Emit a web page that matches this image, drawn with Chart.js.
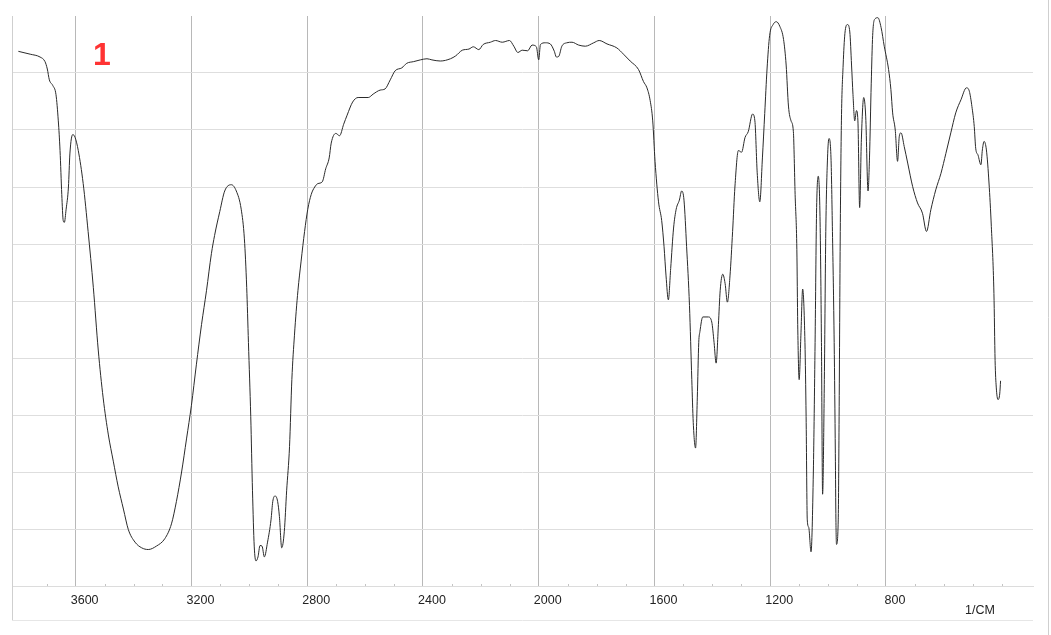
<!DOCTYPE html>
<html lang="en">
<head>
  <meta charset="UTF-8">
  <title>IR spectrum 1</title>
  <style>
    body {
      margin: 0;
      background: #fff;
    }
    canvas {
      display: block;
    }
  </style>
  <script src="https://cdn.jsdelivr.net/npm/chart.js@4"></script>
</head>
<body>
  <canvas id="chart" width="1051" height="635"></canvas>

  <script>
    // wavenumber (1/cm) from left to right
    const wavenumbers = [
      3798, 3757, 3723, 3706, 3698, 3691, 3679, 3668, 3660, 3654, 3648, 3643, 3639, 3633, 3625, 3620,
      3610, 3602, 3591, 3574, 3557, 3539, 3522, 3505, 3487, 3470, 3453, 3435, 3418, 3395, 3372, 3349,
      3321, 3292, 3269, 3252, 3234, 3217, 3200, 3183, 3165, 3148, 3131, 3120, 3102, 3085, 3062, 3045,
      3028, 3017, 3009, 3003, 2995, 2989, 2983, 2977, 2970, 2963, 2956, 2948, 2937, 2925, 2919, 2911,
      2902, 2896, 2888, 2879, 2871, 2861, 2853, 2844, 2832, 2821, 2809, 2798, 2786, 2774, 2763, 2748,
      2736, 2724, 2717, 2701, 2688, 2674, 2662, 2643, 2624, 2589, 2572, 2548, 2531, 2513, 2496, 2473,
      2456, 2432, 2409, 2386, 2369, 2340, 2305, 2287, 2264, 2241, 2226, 2207, 2192, 2167, 2149, 2126,
      2101, 2086, 2072, 2057, 2038, 2023, 2008, 2000, 1994, 1977, 1960, 1946, 1939, 1931, 1920, 1903,
      1885, 1862, 1839, 1810, 1791, 1764, 1730, 1707, 1684, 1655, 1638, 1626, 1615, 1606, 1598, 1586,
      1575, 1567, 1560, 1552, 1544, 1534, 1525, 1514, 1506, 1498, 1489, 1479, 1471, 1466, 1458, 1452,
      1447, 1443, 1433, 1414, 1402, 1394, 1387, 1379, 1373, 1364, 1356, 1348, 1339, 1330, 1322, 1310,
      1299, 1287, 1276, 1261, 1253, 1245, 1236, 1227, 1219, 1211, 1202, 1190, 1179, 1167, 1154, 1145,
      1137, 1128, 1120, 1114, 1108, 1105, 1100, 1094, 1088, 1080, 1076, 1072, 1067, 1059, 1051, 1045,
      1040, 1034, 1028, 1023, 1019, 1013, 1008, 1002, 997, 990, 985, 979, 975, 973, 971, 965,
      962, 958, 954, 948, 942, 933, 925, 919, 914, 908, 902, 897, 891, 885, 877, 870,
      862, 857, 851, 846, 838, 828, 817, 806, 791, 783, 777, 768, 760, 754, 748, 737,
      725, 708, 691, 674, 660, 645, 628, 610, 593, 576, 559, 541, 522, 512, 503, 495,
      490, 482, 472, 467, 461, 453, 444, 436, 427, 423, 419, 413, 407, 404
    ];

    // transmittance (%), same order
    const transmittance = [
      93.8, 93.3, 92.8, 92.0, 90.7, 88.8, 87.8, 86.2, 81.6, 76.4, 68.7, 64.1, 63.8, 66.1, 70.0, 75.8,
      79.2, 78.7, 76.4, 70.6, 62.2, 52.4, 41.4, 33.0, 26.5, 21.9, 17.4, 13.5, 9.9, 7.7, 6.7, 6.4,
      7.0, 8.3, 10.9, 14.8, 20.0, 25.8, 31.7, 38.8, 45.9, 51.8, 58.3, 61.5, 65.7, 69.3, 70.4, 69.3,
      66.1, 60.9, 52.4, 42.7, 29.7, 16.7, 7.0, 4.4, 5.1, 7.1, 7.0, 5.1, 7.7, 11.6, 14.8, 15.8,
      14.8, 12.2, 6.7, 9.6, 16.7, 24.5, 36.2, 44.0, 51.8, 57.0, 62.2, 66.1, 68.7, 70.0, 70.6, 70.9,
      73.2, 75.1, 77.7, 79.4, 79.0, 81.0, 82.6, 84.9, 85.7, 85.7, 86.3, 87.0, 87.2, 88.8, 90.4, 90.9,
      91.7, 92.0, 92.3, 92.5, 92.3, 92.1, 92.5, 93.0, 94.0, 94.2, 94.6, 94.1, 95.0, 95.4, 95.7, 95.4,
      95.7, 94.7, 93.6, 94.0, 93.9, 94.9, 94.6, 92.3, 95.0, 95.3, 95.1, 93.8, 92.8, 92.9, 94.7, 95.3,
      95.4, 94.9, 94.7, 95.3, 95.7, 95.1, 94.4, 93.3, 92.1, 90.6, 88.5, 87.4, 85.2, 81.6, 74.5, 67.4,
      64.1, 59.6, 54.4, 50.2, 55.7, 62.8, 66.1, 67.7, 69.3, 67.7, 59.6, 49.2, 36.2, 28.7, 24.2, 33.0,
      42.7, 44.6, 47.2, 47.2, 46.3, 42.7, 39.1, 45.9, 51.8, 54.7, 53.1, 49.8, 54.4, 62.2, 70.0, 76.4,
      76.1, 78.7, 79.7, 82.8, 81.6, 72.5, 67.4, 75.1, 82.9, 90.7, 96.6, 98.5, 99.0, 98.2, 95.9, 91.4,
      84.2, 81.6, 79.7, 68.7, 59.0, 45.9, 36.2, 44.0, 52.1, 42.7, 29.7, 11.6, 10.3, 6.0, 20.0, 42.7,
      65.4, 71.9, 64.8, 42.7, 16.1, 36.2, 62.2, 75.1, 78.5, 75.1, 62.2, 42.7, 23.2, 11.6, 7.3, 11.6,
      29.7, 62.2, 81.6, 91.4, 96.9, 98.5, 97.2, 91.4, 86.2, 81.6, 83.4, 81.6, 66.4, 78.4, 85.7, 82.3,
      69.3, 75.1, 88.1, 96.6, 99.5, 99.7, 98.0, 94.7, 90.6, 87.1, 83.0, 80.0, 74.5, 78.9, 79.5, 77.1,
      74.2, 70.1, 67.2, 65.4, 62.2, 66.0, 69.5, 72.4, 75.9, 79.5, 83.0, 85.3, 87.4, 86.8, 84.1, 80.6,
      76.8, 75.6, 73.9, 76.5, 78.0, 76.5, 70.7, 63.1, 51.3, 39.6, 34.9, 32.7, 33.7, 36.0
    ];

    const tickValues = [3600, 3200, 2800, 2400, 2000, 1600, 1200, 800];
    const minorTickValues = [3700, 3500, 3400, 3300, 3100, 3000, 2900, 2700, 2600, 2500, 2300, 2200,
      2100, 1900, 1800, 1700, 1500, 1400, 1300, 1100, 1000, 900, 700, 600, 500, 400];
    const sampleLabel = '1';
    const unitLabel = '1/CM';

    const points = wavenumbers.map((w, i) => ({ x: w, y: transmittance[i] }));

    // frame lines, minor ticks and the two text labels
    const decorations = {
      id: 'decorations',
      afterDraw(chart) {
        const ctx = chart.ctx;
        const area = chart.chartArea;
        const xs = chart.scales.x;
        ctx.save();

        ctx.lineWidth = 1;
        ctx.strokeStyle = '#cfcfcf';
        ctx.beginPath();
        ctx.moveTo(area.left + 0.5, area.top);
        ctx.lineTo(area.left + 0.5, 620);
        ctx.moveTo(1048.5, 0);
        ctx.lineTo(1048.5, 635);
        ctx.stroke();

        ctx.strokeStyle = '#e6e6e6';
        ctx.beginPath();
        ctx.moveTo(area.left, 620.5);
        ctx.lineTo(area.right, 620.5);
        ctx.stroke();

        ctx.strokeStyle = '#c4c4c4';
        ctx.beginPath();
        minorTickValues.forEach(v => {
          const px = Math.round(xs.getPixelForValue(v)) + 0.5;
          ctx.moveTo(px, area.bottom);
          ctx.lineTo(px, area.bottom - 2);
        });
        ctx.stroke();

        ctx.fillStyle = '#ff3333';
        ctx.font = 'bold 32px "Liberation Sans", Arial, sans-serif';
        ctx.textAlign = 'center';
        ctx.textBaseline = 'middle';
        ctx.fillText(sampleLabel, 102, 56);

        ctx.fillStyle = '#222';
        ctx.font = '12.5px "Liberation Sans", Arial, sans-serif';
        ctx.fillText(unitLabel, 980, 611);

        ctx.restore();
      }
    };

    new Chart(document.getElementById('chart'), {
      type: 'line',
      data: {
        datasets: [{
          data: points,
          borderColor: '#2a2a2a',
          borderWidth: 1,
          pointRadius: 0,
          cubicInterpolationMode: 'monotone',
          fill: false
        }]
      },
      options: {
        responsive: false,
        animation: false,
        layout: {
          padding: { left: 12, right: 18, top: 16, bottom: 15 }
        },
        plugins: {
          legend: { display: false },
          tooltip: { enabled: false }
        },
        scales: {
          x: {
            type: 'linear',
            reverse: true,
            min: 292,
            max: 3820,
            afterBuildTicks: scale => {
              scale.ticks = tickValues.map(v => ({ value: v }));
            },
            afterFit: scale => {
              scale.height = 34;
            },
            grid: {
              color: '#b8b8b8',
              lineWidth: 1,
              drawTicks: false
            },
            border: {
              display: true,
              color: '#dcdcdc'
            },
            ticks: {
              padding: 7,
              labelOffset: 9,
              color: '#222',
              font: { family: '"Liberation Sans", Arial, sans-serif', size: 12.5 },
              callback: v => String(v)
            }
          },
          y: {
            min: 0,
            max: 100,
            afterFit: scale => {
              scale.width = 0;
            },
            ticks: {
              display: false,
              stepSize: 10
            },
            grid: {
              drawTicks: false,
              color: c => (c.tick.value === 0 || c.tick.value === 100) ? 'rgba(0,0,0,0)' : '#dedede'
            },
            border: { display: false }
          }
        }
      },
      plugins: [decorations]
    });
  </script>
</body>
</html>
